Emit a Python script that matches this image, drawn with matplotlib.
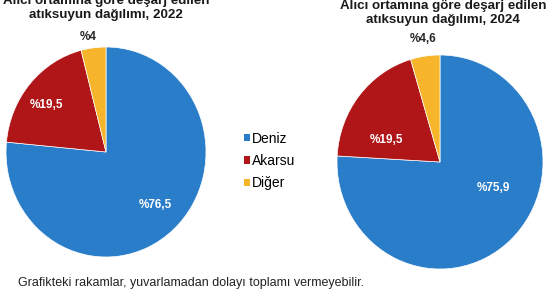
import matplotlib.pyplot as plt
from matplotlib.patches import Patch

plt.rcParams['font.family'] = ['Liberation Sans', 'DejaVu Sans']

categories = ['Deniz', 'Akarsu', 'Diğer']
share_2022 = [76.5, 19.5, 4.0]
share_2024 = [75.9, 19.5, 4.6]
labels_2022 = ['%76,5', '%19,5', '%4']
labels_2024 = ['%75,9', '%19,5', '%4,6']
colors = ['#2a7dc9', '#b01518', '#f7b52c']

title_2022 = 'Alıcı ortamına göre deşarj edilen\natıksuyun dağılımı, 2022'
title_2024 = 'Alıcı ortamına göre deşarj edilen\natıksuyun dağılımı, 2024'
note = 'Grafikteki rakamlar, yuvarlamadan dolayı toplamı vermeyebilir.'

W, H = 551, 291
fig = plt.figure(figsize=(W / 100, H / 100), dpi=100)

# label placement inside pie units (Excel style manual positions)
lbl_2022 = [(0.49, -0.50), (-0.60, 0.45), (-0.18, 1.10)]
lbl_2024 = [(0.52, -0.24), (-0.52, 0.21), (-0.16, 1.15)]


def draw_pie(box, values, texts, pos):
    x0, y0, w, h = box
    ax = fig.add_axes([x0 / W, 1 - (y0 + h) / H, w / W, h / H])
    ax.pie(values, colors=colors, startangle=90, counterclock=False,
           wedgeprops=dict(edgecolor='white', linewidth=0.5))
    ax.set_aspect('auto')
    ax.set_xlim(-1, 1)
    ax.set_ylim(-1, 1)
    ax.axis('off')
    for i, (t, p) in enumerate(zip(texts, pos)):
        inside = i < 2
        ax.text(p[0], p[1], t, ha='center', va='center', fontsize=8.5,
                fontweight='bold', color='white' if inside else '#262626',
                clip_on=False)
    return ax


draw_pie((6, 47, 200, 210), share_2022, labels_2022, lbl_2022)
draw_pie((337, 55, 206, 214), share_2024, labels_2024, lbl_2024)

fig.text(106 / W, 1 - 8 / H, title_2022, ha='center', va='center',
         fontsize=9.6, fontweight='bold', color='#1a1a1a', linespacing=1.3)
fig.text(443 / W, 1 - 13 / H, title_2024, ha='center', va='center',
         fontsize=9.6, fontweight='bold', color='#1a1a1a', linespacing=1.3)

handles = [Patch(facecolor=c, edgecolor='none') for c in colors]
fig.legend(handles, categories, loc='center left',
           bbox_to_anchor=(244 / W, 1 - 161 / H), frameon=False, fontsize=10,
           handlelength=0.45, handleheight=0.45, handletextpad=0.15,
           labelspacing=0.6, borderpad=0, borderaxespad=0)

fig.text(18 / W, 1 - 283 / H, note, ha='left', va='center', fontsize=9,
         color='#222222')

fig.savefig('out.png', dpi=100)
